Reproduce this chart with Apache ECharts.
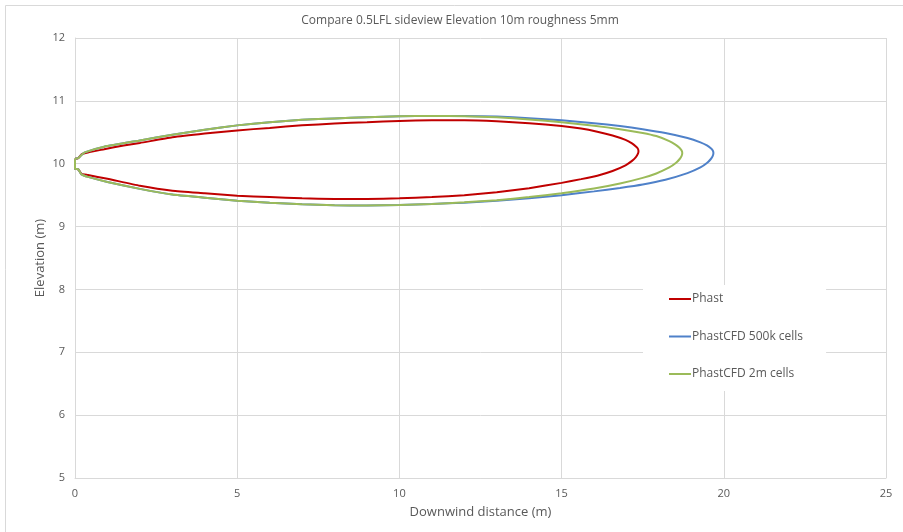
<!DOCTYPE html>
<html>
<head>
<meta charset="utf-8">
<script src="https://cdn.jsdelivr.net/npm/echarts@6/dist/echarts.min.js"></script>
<style>
  html, body { margin: 0; padding: 0; background: #fff; }
  #chart { width: 903px; height: 532px; }
</style>
</head>
<body>
<div id="chart"></div>
<script>
// Cloud outline (downwind distance, elevation), traced around the loop
var phast = [
  [0, 10.08], [0.1, 10.09], [0.2, 10.15], [0.4, 10.18], [0.9, 10.23], [1.5, 10.29],
  [2, 10.33], [3, 10.42], [4, 10.48], [5, 10.53], [6, 10.57], [7, 10.61], [8, 10.64],
  [9, 10.66], [10, 10.68], [11, 10.69], [12, 10.69], [13, 10.675], [14, 10.645],
  [15, 10.6], [15.6, 10.56], [16.1, 10.51], [16.57, 10.45], [16.97, 10.38],
  [17.17, 10.325], [17.29, 10.275], [17.35, 10.24], [17.37, 10.2], [17.35, 10.155],
  [17.29, 10.105], [17.17, 10.045], [16.97, 9.975], [16.57, 9.885], [16.1, 9.81],
  [15.6, 9.755], [15, 9.695], [14, 9.61], [13, 9.545], [12, 9.5], [11, 9.47],
  [10, 9.45], [9, 9.44], [8, 9.44], [7, 9.45], [6, 9.47], [5, 9.49], [4, 9.53],
  [3, 9.57], [2, 9.65], [1, 9.76], [0.4, 9.82], [0.2, 9.84], [0.1, 9.91], [0, 9.92],
  [0, 10.08]
];
var cfd500k = [
  [0, 10.08], [0.1, 10.09], [0.2, 10.14], [0.3, 10.18], [0.9, 10.27], [2, 10.37],
  [3, 10.46], [4, 10.54], [5, 10.61], [6, 10.66], [7, 10.7], [8, 10.72], [9, 10.74],
  [10, 10.755], [11, 10.76], [12, 10.76], [13, 10.75], [14, 10.725], [15, 10.69],
  [16, 10.645], [16.8, 10.6], [17.5, 10.55], [18.2, 10.49], [18.88, 10.41],
  [19.28, 10.34], [19.48, 10.29], [19.6, 10.245], [19.66, 10.21], [19.68, 10.17],
  [19.66, 10.125], [19.6, 10.075], [19.48, 10.01], [19.28, 9.94], [18.88, 9.85],
  [18.2, 9.745], [17.5, 9.67], [16.8, 9.615], [16, 9.56], [15, 9.5], [14, 9.45],
  [13, 9.41], [12, 9.38], [11, 9.36], [10, 9.345], [9, 9.335], [8, 9.34], [7, 9.355],
  [6, 9.38], [5, 9.41], [4, 9.46], [3, 9.51], [2, 9.6], [1, 9.71], [0.4, 9.79],
  [0.2, 9.83], [0.1, 9.91], [0, 9.92], [0, 10.08]
];
var cfd2m = [
  [0, 10.08], [0.1, 10.09], [0.2, 10.14], [0.3, 10.18], [0.9, 10.27], [2, 10.37],
  [3, 10.46], [4, 10.54], [5, 10.61], [6, 10.66], [7, 10.7], [8, 10.72], [9, 10.74],
  [10, 10.755], [11, 10.76], [12, 10.755], [13, 10.74], [14, 10.705], [15, 10.66],
  [16, 10.605], [16.8, 10.55], [17.5, 10.49], [17.92, 10.44], [18.32, 10.36],
  [18.52, 10.3], [18.64, 10.25], [18.7, 10.21], [18.72, 10.17], [18.7, 10.125],
  [18.64, 10.075], [18.52, 10.01], [18.32, 9.94], [17.92, 9.845], [17.5, 9.775],
  [16.8, 9.685], [16, 9.605], [15, 9.53], [14, 9.47], [13, 9.42], [12, 9.385],
  [11, 9.36], [10, 9.345], [9, 9.335], [8, 9.34], [7, 9.355], [6, 9.38], [5, 9.41],
  [4, 9.46], [3, 9.51], [2, 9.6], [1, 9.71], [0.4, 9.79], [0.2, 9.83], [0.1, 9.91],
  [0, 9.92], [0, 10.08]
];

var seriesNames = ['Phast', 'PhastCFD 500k cells', 'PhastCFD 2m cells'];
var seriesColors = ['#c00000', '#4f81c9', '#9bbb59'];
var seriesData = [phast, cfd500k, cfd2m];

var textColor = '#595959';
var gridColor = '#d9d9d9';
var font = 'Open Sans';

var chart = echarts.init(document.getElementById('chart'), null, { renderer: 'canvas' });

chart.setOption({
  animation: false,
  backgroundColor: '#ffffff',
  title: {
    text: 'Compare 0.5LFL sideview Elevation 10m roughness 5mm',
    left: 455,
    textAlign: 'center',
    top: 10,
    textStyle: { color: textColor, fontSize: 12, fontWeight: 'normal', fontFamily: font }
  },
  graphic: [{
    type: 'rect',
    silent: true,
    shape: { x: 5.5, y: 5.5, width: 1000, height: 1000 },
    style: { fill: 'none', stroke: '#d9d9d9', lineWidth: 1 }
  }],
  grid: { left: 75, right: 17, top: 38, bottom: 54, containLabel: false },
  legend: {
    orient: 'vertical',
    left: 643,
    top: 285,
    padding: [8, 23, 11, 26],
    backgroundColor: '#ffffff',
    itemGap: 25.5,
    itemWidth: 22,
    itemHeight: 2,
    icon: 'rect',
    textStyle: { color: textColor, fontSize: 12, fontFamily: font, padding: [0, 0, 0, -4] },
    data: seriesNames
  },
  xAxis: {
    type: 'value',
    min: 0, max: 25, interval: 5,
    name: 'Downwind distance (m)',
    nameLocation: 'middle',
    nameGap: 28,
    nameTextStyle: { color: textColor, fontSize: 13, fontFamily: font },
    axisLine: { show: true, lineStyle: { color: gridColor } },
    axisTick: { show: false },
    axisLabel: { color: textColor, fontSize: 11, fontFamily: font, margin: 10 },
    splitLine: { show: true, lineStyle: { color: gridColor } }
  },
  yAxis: {
    type: 'value',
    min: 5, max: 12, interval: 1,
    name: 'Elevation (m)',
    nameLocation: 'middle',
    nameGap: 28,
    nameMoveOverlap: false,
    nameTextStyle: { color: textColor, fontSize: 13, fontFamily: font },
    axisLine: { show: true, lineStyle: { color: gridColor } },
    axisTick: { show: false },
    axisLabel: { color: textColor, fontSize: 11, fontFamily: font, margin: 10 },
    splitLine: { show: true, lineStyle: { color: gridColor } }
  },
  series: seriesNames.map(function (name, i) {
    return {
      name: name,
      type: 'line',
      data: seriesData[i],
      showSymbol: false,
      smooth: 0.15,
      color: seriesColors[i],
      lineStyle: { width: 2, color: seriesColors[i] },
      z: 2 + i
    };
  })
});
</script>
</body>
</html>
